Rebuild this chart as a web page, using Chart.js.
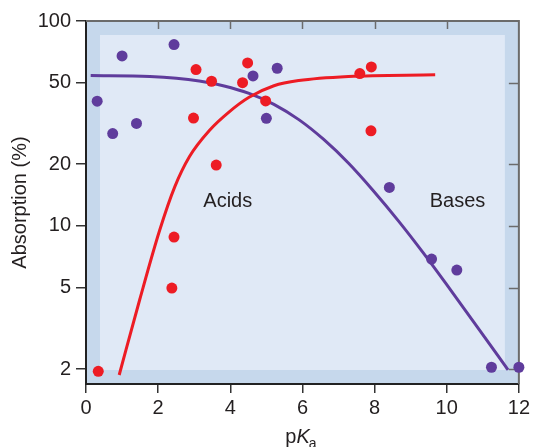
<!DOCTYPE html>
<html>
<head>
<meta charset="utf-8">
<script src="https://cdn.jsdelivr.net/npm/chart.js@4.4.1/dist/chart.umd.min.js"></script>
<style>
html,body{margin:0;padding:0;background:#fff;}
canvas{display:block;}
</style>
</head>
<body>
<canvas id="c" width="533" height="447"></canvas>
<script>
// ---- data ----
const xTicks = [0, 2, 4, 6, 8, 10, 12];
const yTicks = [2, 5, 10, 20, 50, 100];

const basesX = [0.31, 0.74, 1.0, 1.40, 2.44, 4.63, 5.30, 5.0, 8.41, 9.58, 10.28, 11.24, 12.0];
const basesY = [40.6, 28.2, 67.5, 31.6, 76.7, 53.9, 58.8, 33.5, 15.4, 6.88, 6.08, 2.04, 2.04];

const acidsX = [0.34, 2.44, 2.38, 3.05, 3.48, 2.98, 3.61, 4.48, 4.34, 4.98, 7.59, 7.91, 7.90];
const acidsY = [1.95, 8.81, 4.97, 57.9, 50.8, 33.6, 19.8, 62.4, 50.0, 40.7, 55.4, 59.7, 29.1];

const basesCurveX = [0.13, 1.77, 3.14, 3.83, 4.52, 5.21, 5.90, 6.59, 7.28, 7.97, 8.66, 9.35, 10.04, 10.87, 11.70];
const basesCurveY = [54.2, 53.6, 51.0, 48.2, 44.3, 39.2, 33.0, 26.4, 20.2, 14.8, 10.58, 7.38, 5.05, 3.17, 1.98];

const acidsCurveX = [0.92, 1.49, 2.04, 2.46, 2.87, 3.42, 3.97, 4.52, 5.21, 5.90, 7.28, 9.68];
const acidsCurveY = [1.87, 4.37, 9.49, 15.5, 21.8, 29.2, 36.0, 42.4, 48.3, 51.2, 53.6, 54.6];

const groupLabels = ["Acids", "Bases"];
const groupLabelX = [3.93, 10.3];
const groupLabelY = [13.3, 13.3];

const xTitle = ["p", "K", "a"];
const yTitle = "Absorption (%)";

// ---- styles ----
const PURPLE = "#5f3c9c";
const RED = "#ed1c24";
const TEXT = "#231f20";
const FONT = "'Liberation Sans', Arial, Helvetica, sans-serif";

const zip = (xs, ys) => xs.map((x, i) => ({x: x, y: ys[i]}));

const framePlugin = {
  id: "frame",
  beforeDraw(chart) {
    const {ctx, chartArea: a} = chart;
    ctx.save();
    ctx.fillStyle = "#c6d8ec";
    ctx.fillRect(a.left, a.top, a.right - a.left, a.bottom - a.top);
    const inset = 14;
    ctx.fillStyle = "#e0e9f6";
    ctx.fillRect(a.left + inset, a.top + inset, a.right - a.left - 2 * inset, a.bottom - a.top - 2 * inset);
    ctx.restore();
  },
  beforeDatasetsDraw(chart) {
    const {ctx, chartArea: a, scales} = chart;
    ctx.save();
    ctx.strokeStyle = "#6b6b6b";
    ctx.lineWidth = 2;
    ctx.beginPath();
    ctx.moveTo(a.left, a.top);
    ctx.lineTo(a.right, a.top);
    ctx.lineTo(a.right, a.bottom);
    ctx.stroke();
    ctx.lineWidth = 1.5;
    ctx.beginPath();
    xTicks.forEach(v => {
      if (v <= 0 || v >= 12) return;
      const px = Math.round(scales.x.getPixelForValue(v)) + 0.5;
      ctx.moveTo(px, a.top);
      ctx.lineTo(px, a.top + 8);
    });
    yTicks.forEach(v => {
      if (v >= 100) return;
      const py = Math.round(scales.y.getPixelForValue(v)) + 0.5;
      ctx.moveTo(a.right, py);
      ctx.lineTo(a.right - 10, py);
    });
    ctx.stroke();
    ctx.restore();
  },
  afterDatasetsDraw(chart) {
    const {ctx, scales} = chart;
    ctx.save();
    ctx.fillStyle = TEXT;
    ctx.font = "20px " + FONT;
    ctx.textAlign = "center";
    ctx.textBaseline = "alphabetic";
    groupLabels.forEach((t, i) => {
      ctx.fillText(t, scales.x.getPixelForValue(groupLabelX[i]), scales.y.getPixelForValue(groupLabelY[i]) + 7);
    });
    // x-axis title: p K(italic) subscript a
    const a = chart.chartArea;
    const cx = (a.left + a.right) / 2 - 1;
    const base = 443;
    ctx.textAlign = "left";
    ctx.font = "20px " + FONT;
    const w1 = ctx.measureText(xTitle[0]).width;
    ctx.font = "italic 20px " + FONT;
    const w2 = ctx.measureText(xTitle[1]).width;
    ctx.font = "14px " + FONT;
    const w3 = ctx.measureText(xTitle[2]).width;
    let x0 = cx - (w1 + w2 + w3) / 2;
    ctx.font = "20px " + FONT;
    ctx.fillText(xTitle[0], x0, base);
    ctx.font = "italic 20px " + FONT;
    ctx.fillText(xTitle[1], x0 + w1, base);
    ctx.font = "14px " + FONT;
    ctx.fillText(xTitle[2], x0 + w1 + w2 - 1, base + 5);
    ctx.restore();
  }
};

new Chart(document.getElementById("c"), {
  type: "scatter",
  data: {
    datasets: [
      {
        label: "Acids",
        data: zip(acidsX, acidsY),
        backgroundColor: RED,
        borderColor: RED,
        borderWidth: 0,
        pointRadius: 5.5,
        showLine: false,
        order: 1,
        clip: false
      },
      {
        label: "Bases",
        data: zip(basesX, basesY),
        backgroundColor: PURPLE,
        borderColor: PURPLE,
        borderWidth: 0,
        pointRadius: 5.5,
        showLine: false,
        order: 2,
        clip: false
      },
      {
        label: "Acids curve",
        data: zip(acidsCurveX, acidsCurveY),
        borderColor: RED,
        borderWidth: 3,
        pointRadius: 0,
        showLine: true,
        cubicInterpolationMode: "monotone",
        order: 3,
        clip: false
      },
      {
        label: "Bases curve",
        data: zip(basesCurveX, basesCurveY),
        borderColor: PURPLE,
        borderWidth: 3,
        pointRadius: 0,
        showLine: true,
        cubicInterpolationMode: "monotone",
        order: 4,
        clip: false
      }
    ]
  },
  options: {
    responsive: false,
    animation: false,
    events: [],
    layout: {padding: {left: 0, right: 12, top: 21, bottom: 0}},
    plugins: {legend: {display: false}, tooltip: {enabled: false}},
    scales: {
      x: {
        type: "linear",
        min: 0,
        max: 12,
        afterBuildTicks: s => { s.ticks = xTicks.map(v => ({value: v})); },
        afterFit: s => { s.height = 63; },
        grid: {drawOnChartArea: false, drawTicks: true, tickLength: 9, color: "#333", lineWidth: 1.5},
        border: {display: true, color: "#222", width: 2},
        ticks: {color: TEXT, font: {size: 20, family: FONT}, padding: 3, maxRotation: 0}
      },
      y: {
        type: "logarithmic",
        min: 1.69,
        max: 100,
        afterBuildTicks: s => { s.ticks = yTicks.map(v => ({value: v})); },
        afterFit: s => { s.width = 86; },
        grid: {drawOnChartArea: false, drawTicks: true, tickLength: 10, color: "#333", lineWidth: 1.5},
        border: {display: true, color: "#222", width: 2},
        ticks: {color: TEXT, font: {size: 20, family: FONT}, padding: 5, callback: v => String(v)},
        title: {display: true, text: yTitle, color: TEXT, font: {size: 20, family: FONT}, padding: {top: 8, bottom: 0}}
      }
    }
  },
  plugins: [framePlugin]
});
</script>
</body>
</html>
